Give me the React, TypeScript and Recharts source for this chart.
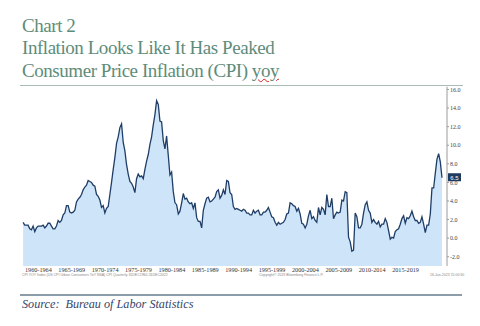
import React from 'react';
import { AreaChart, Area, XAxis, YAxis, ReferenceDot } from 'recharts';

const startYear = 1960;
// CPI YoY %, quarterly, 1960 Q1 .. 2022 Q4
const cpiYoy = [
  1.7, 1.4, 1.4, 1.4,
  1.0, 0.9, 1.3, 0.7,
  1.1, 1.3, 1.3, 1.3,
  1.4, 1.1, 1.3, 1.6,
  1.6, 1.3, 1.0, 1.0,
  1.3, 1.9, 1.7, 1.9,
  2.5, 2.7, 3.5, 3.5,
  2.8, 2.7, 2.8, 3.0,
  3.9, 4.2, 4.4, 4.7,
  5.2, 5.5, 5.7, 6.2,
  6.1, 6.0, 5.7, 5.6,
  4.7, 4.5, 4.1, 3.3,
  3.5, 2.7, 3.2, 3.4,
  4.7, 6.0, 7.4, 8.7,
  10.2, 10.9, 11.9, 12.3,
  10.3, 9.4, 7.9, 6.9,
  6.1, 5.9, 5.5, 4.9,
  6.4, 6.9, 6.6, 6.7,
  6.4, 7.4, 8.3, 9.0,
  10.1, 10.9, 12.2, 13.3,
  14.8, 14.4, 12.6, 12.5,
  10.5, 9.6, 11.0, 8.9,
  6.8, 7.1, 5.0, 3.8,
  3.6, 2.6, 2.9, 3.8,
  4.8, 4.2, 4.3, 3.9,
  3.7, 3.8, 3.2, 3.8,
  2.2, 1.8, 1.8, 1.1,
  3.0, 3.7, 4.3, 4.4,
  3.9, 4.0, 4.2, 4.4,
  5.0, 5.2, 4.3, 4.6,
  5.2, 4.7, 6.2, 6.1,
  4.9, 4.7, 3.4, 3.1,
  3.2, 3.1, 3.0, 2.9,
  3.1, 3.0, 2.7, 2.7,
  2.5, 2.5, 3.0, 2.7,
  2.9, 3.0, 2.5, 2.5,
  2.8, 2.8, 3.0, 3.3,
  2.8, 2.3, 2.2, 1.7,
  1.4, 1.7, 1.5, 1.6,
  1.7, 2.0, 2.6, 2.7,
  3.8, 3.7, 3.5, 3.4,
  2.9, 3.2, 2.6, 1.6,
  1.5, 1.1, 1.5, 2.4,
  3.0, 2.1, 2.3, 1.9,
  1.7, 3.3, 2.5, 3.3,
  3.1, 2.5, 4.7, 3.4,
  3.4, 4.3, 2.1, 2.5,
  2.8, 2.7, 2.8, 4.1,
  4.0, 5.0, 4.9, 0.1,
  -0.4, -1.4, -1.3, 2.7,
  2.3, 1.1, 1.1, 1.5,
  2.7, 3.6, 3.9, 3.0,
  2.7, 1.7, 2.0, 1.7,
  1.5, 1.8, 1.2, 1.5,
  1.5, 2.1, 1.7, 0.8,
  -0.1, 0.1, 0.0, 0.7,
  0.9, 1.0, 1.5, 2.1,
  2.4, 1.6, 2.2, 2.1,
  2.4, 2.9, 2.3, 1.9,
  1.9, 1.6, 1.7, 2.3,
  1.5, 0.6, 1.4, 1.4,
  2.6, 5.4, 5.4, 7.0,
  8.5, 9.1, 8.2, 6.5,
];

const periodTicks = [1962.5, 1967.5, 1972.5, 1977.5, 1982.5, 1987.5, 1992.5, 1997.5, 2002.5, 2007.5, 2012.5, 2017.5];
const periodLabels = ['1960-1964', '1965-1969', '1970-1974', '1975-1979', '1980-1984', '1985-1989', '1990-1994', '1995-1999', '2000-2004', '2005-2009', '2010-2014', '2015-2019'];
const yTicks = [-2, 0, 2, 4, 6, 8, 10, 12, 14, 16];

const data = cpiYoy.map((v, i) => ({
  t: startYear + Math.floor(i / 4) + ((i % 4) * 3 + 2.5) / 12,
  v,
}));
const lastValue = cpiYoy[cpiYoy.length - 1];

const X_MIN = 1960.15;
const X_MAX = 2023.71;

const titleColor = '#5e8c7a';

const LastLabel = (props: any) => {
  const { cx, cy } = props;
  return (
    <g>
      <rect x={cx + 1} y={cy - 4.5} width={13} height={8} fill="#1f3a60" />
      <text x={cx + 7.5} y={cy + 2.2} fontSize={6} fill="#ffffff" textAnchor="middle" fontFamily="Liberation Sans, Arial, sans-serif">
        {lastValue.toFixed(1)}
      </text>
    </g>
  );
};

export default function App() {
  return (
    <div style={{ position: 'absolute', left: 0, top: 0, width: 480, height: 326, background: '#fff', overflow: 'hidden' }}>
      <div style={{ position: 'absolute', left: 22, top: 15, fontFamily: '"Liberation Serif", serif', fontSize: 19, lineHeight: '22.3px', letterSpacing: -0.45, color: titleColor, whiteSpace: 'nowrap' }}>
        <div>Chart 2</div>
        <div>Inflation Looks Like It Has Peaked</div>
        <div>
          Consumer Price Inflation (CPI){' '}
          <span style={{ textDecoration: 'underline wavy #e02020', textDecorationThickness: 1 }}>yoy</span>
        </div>
      </div>
      <div style={{ position: 'absolute', left: 20, top: 84.5, width: 443, height: 1, background: '#a9bdb2' }} />

      <div style={{ position: 'absolute', left: 0, top: 0 }}>
        <AreaChart
          width={480}
          height={326}
          data={data}
          margin={{ top: 86.7, right: 0, bottom: 48, left: 22.7 }}
        >
          <XAxis
            dataKey="t"
            type="number"
            domain={[X_MIN, X_MAX]}
            ticks={periodTicks}
            tickFormatter={(v: number) => periodLabels[periodTicks.indexOf(v)] ?? ''}
            axisLine={false}
            tickLine={false}
            tickSize={0}
            tickMargin={2}
            height={12}
            interval={0}
            tick={{ fontSize: 6.2, fill: '#333', fontFamily: '"Liberation Serif", serif' }}
          />
          <YAxis
            orientation="right"
            type="number"
            domain={[-3, 16.3]}
            ticks={yTicks}
            tickFormatter={(v: number) => v.toFixed(1)}
            width={33}
            axisLine={{ stroke: '#9a9a9a', strokeWidth: 1 }}
            tickLine={{ stroke: '#9a9a9a' }}
            tickSize={2}
            tickMargin={1}
            interval={0}
            tick={{ fontSize: 6, fill: '#444', fontFamily: '"Liberation Serif", serif' }}
          />
          <Area
            type="linear"
            dataKey="v"
            stroke="#1f3d66"
            strokeWidth={1.3}
            fill="#cde4f9"
            fillOpacity={1}
            baseValue="dataMin"
            isAnimationActive={false}
            dot={false}
            activeDot={false}
          />
          <ReferenceDot x={X_MAX} y={lastValue} r={0} ifOverflow="visible" shape={<LastLabel />} />
        </AreaChart>
      </div>

      <div style={{ position: 'absolute', left: 22, top: 272.5, fontSize: 3.5, color: '#888', fontFamily: 'Liberation Sans, sans-serif', whiteSpace: 'nowrap' }}>
        CPI YOY Index (US CPI Urban Consumers YoY NSA) CPI  Quarterly 31DEC1960-31DEC2022
      </div>
      <div style={{ position: 'absolute', left: 259, top: 272.5, fontSize: 3.5, color: '#888', fontFamily: 'Liberation Sans, sans-serif', whiteSpace: 'nowrap' }}>
        Copyright© 2023 Bloomberg Finance L.P.
      </div>
      <div style={{ position: 'absolute', left: 430, top: 272.5, fontSize: 3.5, color: '#888', fontFamily: 'Liberation Sans, sans-serif', whiteSpace: 'nowrap' }}>
        16-Jan-2023 15:00:30
      </div>

      <div style={{ position: 'absolute', left: 20, top: 294, width: 442, height: 2, background: '#8c9ca9' }} />
      <div style={{ position: 'absolute', left: 22, top: 297, fontFamily: '"Liberation Serif", serif', fontStyle: 'italic', fontSize: 12.2, color: '#34466b', whiteSpace: 'pre' }}>
        {'Source:  Bureau of Labor Statistics'}
      </div>
    </div>
  );
}
